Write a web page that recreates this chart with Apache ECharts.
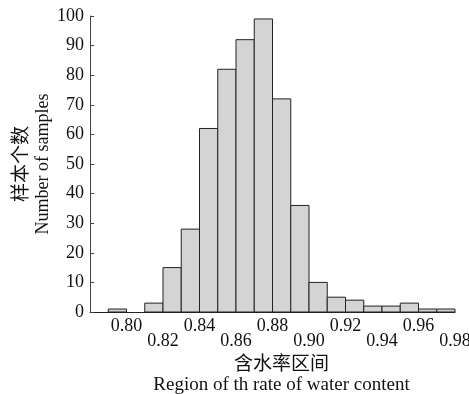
<!DOCTYPE html>
<html>
<head>
<meta charset="utf-8">
<script src="https://cdn.jsdelivr.net/npm/echarts@6/dist/echarts.min.js"></script>
<style>
  html, body { margin: 0; padding: 0; background: #fff; }
  #chart { width: 469px; height: 394px; }
</style>
</head>
<body>
<div id="chart"></div>
<script>
// Histogram of water-content ratio: left edge of each bin and its sample count
const binStarts = [0.79, 0.80, 0.81, 0.82, 0.83, 0.84, 0.85, 0.86, 0.87, 0.88,
                   0.89, 0.90, 0.91, 0.92, 0.93, 0.94, 0.95, 0.96, 0.97];
const binWidth = 0.01;
const sampleCounts = [1, 0, 3, 15, 28, 62, 82, 92, 99, 72,
                      36, 10, 5, 4, 2, 2, 3, 1, 1];
const xTickValues = [0.80, 0.82, 0.84, 0.86, 0.88, 0.90, 0.92, 0.94, 0.96, 0.98];
const yTickValues = [0, 10, 20, 30, 40, 50, 60, 70, 80, 90, 100];

const serif = "'Liberation Serif', 'Times New Roman', 'Noto Sans CJK SC', serif";

const bins = binStarts.map((s, i) => [s, +(s + binWidth).toFixed(2), sampleCounts[i]]);

const chart = echarts.init(document.getElementById('chart'), null, { renderer: 'canvas' });

chart.setOption({
  animation: false,
  backgroundColor: '#fff',
  grid: { left: 90, right: 14, top: 16, bottom: 82, containLabel: false, outerBoundsMode: 'none' },
  xAxis: {
    type: 'value',
    min: 0.78,
    max: 0.98,
    interval: 0.02,
    name: '{c|含水率区间}\n{e|Region of th rate of water content}',
    nameLocation: 'middle',
    nameGap: 39,
    nameTextStyle: {
      padding: [0, 0, 0, 18],
      rich: {
        c: { fontFamily: serif, fontSize: 19, color: '#111', lineHeight: 21 },
        e: { fontFamily: serif, fontSize: 19, color: '#111', lineHeight: 19 }
      }
    },
    axisLine: { show: true, onZero: false, lineStyle: { color: '#222', width: 1 } },
    axisTick: { show: false },
    splitLine: { show: false },
    axisLabel: {
      showMinLabel: false,
      margin: 7,
      fontFamily: serif,
      fontSize: 18,
      color: '#111',
      lineHeight: 15,
      formatter: function (v) {
        const k = Math.round(v * 100);
        if (!xTickValues.some(t => Math.round(t * 100) === k)) return '';
        const txt = v.toFixed(2);
        return (k % 4 === 0) ? txt : '\n' + txt;
      }
    }
  },
  yAxis: {
    type: 'value',
    min: yTickValues[0],
    max: yTickValues[yTickValues.length - 1],
    interval: 10,
    name: '{c|样本个数}\n{e|Number of samples}',
    nameLocation: 'middle',
    nameRotate: 90,
    nameGap: 37,
    nameMoveOverlap: false,
    nameTextStyle: {
      rich: {
        c: { fontFamily: serif, fontSize: 19, color: '#111', lineHeight: 22 },
        e: { fontFamily: serif, fontSize: 18, color: '#111', lineHeight: 20 }
      }
    },
    axisLine: { show: true, lineStyle: { color: '#444', width: 1 } },
    axisTick: { show: true, inside: true, length: 4, lineStyle: { color: '#444' } },
    splitLine: { show: false },
    axisLabel: { fontFamily: serif, fontSize: 18, color: '#111', margin: 6 }
  },
  series: [{
    type: 'custom',
    data: bins,
    encode: { x: [0, 1], y: 2 },
    renderItem: function (params, api) {
      const count = api.value(2);
      if (!count) return null;
      const p0 = api.coord([api.value(0), 0]);
      const p1 = api.coord([api.value(1), count]);
      return {
        type: 'rect',
        shape: { x: p0[0], y: p1[1], width: p1[0] - p0[0], height: p0[1] - p1[1] },
        style: { fill: '#d4d4d4', stroke: '#222', lineWidth: 1 }
      };
    }
  }]
});
</script>
</body>
</html>
